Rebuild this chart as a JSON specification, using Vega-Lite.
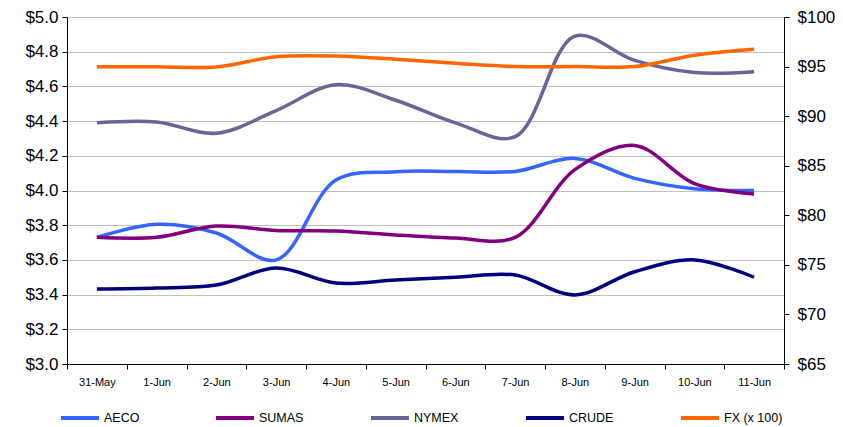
{
  "$schema": "https://vega.github.io/schema/vega-lite/v6.json",
  "autosize": "none",
  "width": 717,
  "height": 347,
  "padding": {"left": 67, "top": 17, "right": 59, "bottom": 63},
  "background": "white",
  "config": {
    "view": {"stroke": null},
    "font": "Liberation Sans"
  },
  "data": {
    "values": [
      {"date": "31-May", "series": "AECO", "value": 3.73},
      {"date": "1-Jun", "series": "AECO", "value": 3.805},
      {"date": "2-Jun", "series": "AECO", "value": 3.755},
      {"date": "3-Jun", "series": "AECO", "value": 3.6},
      {"date": "4-Jun", "series": "AECO", "value": 4.06},
      {"date": "5-Jun", "series": "AECO", "value": 4.108},
      {"date": "6-Jun", "series": "AECO", "value": 4.11},
      {"date": "7-Jun", "series": "AECO", "value": 4.11},
      {"date": "8-Jun", "series": "AECO", "value": 4.185},
      {"date": "9-Jun", "series": "AECO", "value": 4.07},
      {"date": "10-Jun", "series": "AECO", "value": 4.01},
      {"date": "11-Jun", "series": "AECO", "value": 4.0},
      {"date": "31-May", "series": "SUMAS", "value": 3.73},
      {"date": "1-Jun", "series": "SUMAS", "value": 3.73},
      {"date": "2-Jun", "series": "SUMAS", "value": 3.795},
      {"date": "3-Jun", "series": "SUMAS", "value": 3.77},
      {"date": "4-Jun", "series": "SUMAS", "value": 3.767},
      {"date": "5-Jun", "series": "SUMAS", "value": 3.744},
      {"date": "6-Jun", "series": "SUMAS", "value": 3.726},
      {"date": "7-Jun", "series": "SUMAS", "value": 3.73},
      {"date": "8-Jun", "series": "SUMAS", "value": 4.12},
      {"date": "9-Jun", "series": "SUMAS", "value": 4.26},
      {"date": "10-Jun", "series": "SUMAS", "value": 4.04},
      {"date": "11-Jun", "series": "SUMAS", "value": 3.98},
      {"date": "31-May", "series": "NYMEX", "value": 4.39},
      {"date": "1-Jun", "series": "NYMEX", "value": 4.395},
      {"date": "2-Jun", "series": "NYMEX", "value": 4.33},
      {"date": "3-Jun", "series": "NYMEX", "value": 4.46},
      {"date": "4-Jun", "series": "NYMEX", "value": 4.61},
      {"date": "5-Jun", "series": "NYMEX", "value": 4.52},
      {"date": "6-Jun", "series": "NYMEX", "value": 4.39},
      {"date": "7-Jun", "series": "NYMEX", "value": 4.31},
      {"date": "8-Jun", "series": "NYMEX", "value": 4.89},
      {"date": "9-Jun", "series": "NYMEX", "value": 4.75},
      {"date": "10-Jun", "series": "NYMEX", "value": 4.68},
      {"date": "11-Jun", "series": "NYMEX", "value": 4.685},
      {"date": "31-May", "series": "CRUDE", "value": 72.56},
      {"date": "1-Jun", "series": "CRUDE", "value": 72.67},
      {"date": "2-Jun", "series": "CRUDE", "value": 72.96},
      {"date": "3-Jun", "series": "CRUDE", "value": 74.68},
      {"date": "4-Jun", "series": "CRUDE", "value": 73.17},
      {"date": "5-Jun", "series": "CRUDE", "value": 73.47},
      {"date": "6-Jun", "series": "CRUDE", "value": 73.75},
      {"date": "7-Jun", "series": "CRUDE", "value": 73.98},
      {"date": "8-Jun", "series": "CRUDE", "value": 71.97},
      {"date": "9-Jun", "series": "CRUDE", "value": 74.31},
      {"date": "10-Jun", "series": "CRUDE", "value": 75.5},
      {"date": "11-Jun", "series": "CRUDE", "value": 73.75},
      {"date": "31-May", "series": "FX (x 100)", "value": 94.99},
      {"date": "1-Jun", "series": "FX (x 100)", "value": 94.99},
      {"date": "2-Jun", "series": "FX (x 100)", "value": 94.96},
      {"date": "3-Jun", "series": "FX (x 100)", "value": 95.99},
      {"date": "4-Jun", "series": "FX (x 100)", "value": 96.06},
      {"date": "5-Jun", "series": "FX (x 100)", "value": 95.73},
      {"date": "6-Jun", "series": "FX (x 100)", "value": 95.33},
      {"date": "7-Jun", "series": "FX (x 100)", "value": 95.0},
      {"date": "8-Jun", "series": "FX (x 100)", "value": 95.0},
      {"date": "9-Jun", "series": "FX (x 100)", "value": 95.0},
      {"date": "10-Jun", "series": "FX (x 100)", "value": 96.15},
      {"date": "11-Jun", "series": "FX (x 100)", "value": 96.75}
    ]
  },
  "encoding": {
    "x": {
      "field": "date",
      "type": "ordinal",
      "sort": ["31-May","1-Jun","2-Jun","3-Jun","4-Jun","5-Jun","6-Jun","7-Jun","8-Jun","9-Jun","10-Jun","11-Jun"],
      "bandPosition": 0.5,
      "scale": {"type": "band", "paddingInner": 0, "paddingOuter": 0},
      "axis": {
        "title": null,
        "labelAngle": 0,
        "tickBand": "extent",
        "grid": false,
        "domainColor": "#000000",
        "tickColor": "#000000",
        "tickSize": 5,
        "labelFont": "Liberation Sans",
        "labelFontSize": 11,
        "labelColor": "#000000",
        "labelPadding": 7
      }
    },
    "color": {
      "field": "series",
      "type": "nominal",
      "scale": {
        "domain": ["AECO", "SUMAS", "NYMEX", "CRUDE", "FX (x 100)"],
        "range": ["#3366FF", "#800080", "#666699", "#000080", "#FF6600"]
      },
      "legend": {
        "title": null,
        "orient": "none",
        "legendX": -8,
        "legendY": 380,
        "direction": "horizontal",
        "columns": 5,
        "gridAlign": "all",
        "columnPadding": 45,
        "symbolType": "stroke",
        "symbolSize": 1444,
        "symbolStrokeWidth": 4,
        "labelOffset": 3,
        "labelFont": "Liberation Sans",
        "labelFontSize": 12.5,
        "labelColor": "#000000"
      }
    }
  },
  "layer": [
    {
      "transform": [{"filter": "datum.series === 'AECO' || datum.series === 'SUMAS' || datum.series === 'NYMEX'"}],
      "mark": {"type": "line", "interpolate": "catmull-rom", "strokeWidth": 3.5},
      "encoding": {
        "y": {
          "field": "value",
          "type": "quantitative",
          "scale": {"domain": [3, 5], "nice": false, "zero": false},
          "axis": {
            "title": null,
            "orient": "left",
            "values": [3.0, 3.2, 3.4, 3.6, 3.8, 4.0, 4.2, 4.4, 4.6, 4.8, 5.0],
            "format": "$.1f",
            "grid": true,
            "gridColor": "#c0c0c0",
            "gridWidth": 1,
            "domainColor": "#000000",
            "tickColor": "#000000",
            "tickSize": 5,
            "labelFontSize": 17,
            "labelColor": "#000000",
            "labelPadding": 4
          }
        }
      }
    },
    {
      "transform": [{"filter": "datum.series === 'CRUDE' || datum.series === 'FX (x 100)'"}],
      "mark": {"type": "line", "interpolate": "catmull-rom", "strokeWidth": 3.5},
      "encoding": {
        "y": {
          "field": "value",
          "type": "quantitative",
          "scale": {"domain": [65, 100], "nice": false, "zero": false},
          "axis": {
            "title": null,
            "orient": "right",
            "values": [65, 70, 75, 80, 85, 90, 95, 100],
            "format": "$.0f",
            "grid": false,
            "domainColor": "#000000",
            "tickColor": "#000000",
            "tickSize": 5,
            "labelFontSize": 17,
            "labelColor": "#000000",
            "labelPadding": 8
          }
        }
      }
    }
  ],
  "resolve": {"scale": {"y": "independent"}}
}
